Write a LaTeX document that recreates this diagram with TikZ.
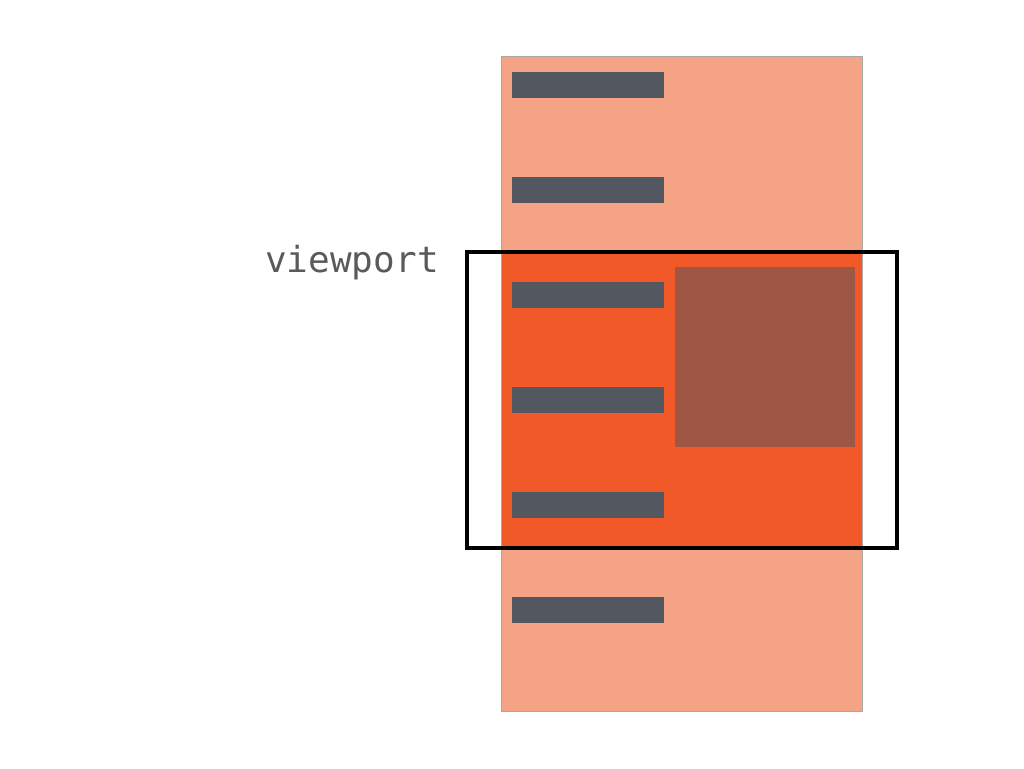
\documentclass[tikz,border=0pt]{standalone}
\usepackage{fontspec}
\newfontfamily\monofont{DejaVu Sans Mono}
\definecolor{pagelight}{HTML}{F4A484}
\definecolor{pageorange}{HTML}{F15A28}
\definecolor{barcol}{HTML}{53575F}
\definecolor{brownbox}{HTML}{9E5744}
\definecolor{pageborder}{HTML}{A8A8A8}
\definecolor{labelgray}{HTML}{5A5A5A}
\begin{document}
\begin{tikzpicture}[x=1pt,y=-1pt,
  bar/.style={fill=barcol},
  vport/.style={draw=black,line width=4pt}]
\useasboundingbox (0,0) rectangle (1024,768);
% page
\fill[pagelight] (501,57) rectangle (862,711);
% visible part
\fill[pageorange] (501,252) rectangle (862,548);
\draw[pageborder,line width=1pt] (501,57) rectangle (862,711);
% bars
\foreach \y in {72,177,282,387,492,597}{
  \fill[bar] (512,\y) rectangle (664,\y+26);
}
% brown box
\fill[brownbox] (675,267) rectangle (855,447);
% viewport
\draw[vport] (467,252) rectangle (897,548);
\node[anchor=base,inner sep=0pt,text=labelgray,font=\monofont\fontsize{36}{40}\selectfont] (lbl) at (352,272) {viewport};
\end{tikzpicture}
\end{document}
